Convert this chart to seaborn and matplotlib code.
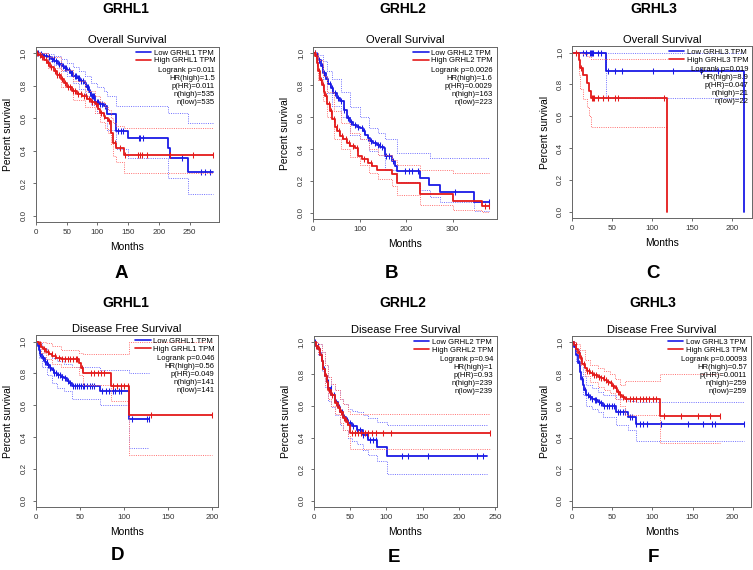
import matplotlib.pyplot as plt
from matplotlib.lines import Line2D
import numpy as np
import seaborn as sns

# ---------------- A: GRHL1 overall survival ----------------
a_low_t = [0, 5, 12, 20, 24, 30, 36, 42, 45, 50, 55, 61, 66, 72, 78, 82, 86, 90, 96, 103, 110, 115, 131, 149, 215, 219, 248, 288]
a_low_s = [1, 0.995, 0.985, 0.975, 0.965, 0.95, 0.935, 0.92, 0.91, 0.895, 0.88, 0.86, 0.845, 0.83, 0.815, 0.79, 0.76, 0.74, 0.70, 0.685, 0.675, 0.624, 0.52, 0.476, 0.419, 0.357, 0.269, 0.269]
a_low_cens = [3, 8, 13, 17, 21, 26, 29, 33, 38, 40, 44, 47, 49, 53, 57, 59, 63, 65, 68, 70, 74, 76, 79, 83, 85, 88, 91, 93, 95, 99, 101, 105, 108, 112, 134, 138, 142, 167, 170, 174, 237, 268, 276, 283]
a_low_ci_t = [0, 20, 30, 40, 50, 60, 70, 80, 90, 100, 110, 115, 131, 149, 215, 248, 288]
a_low_ci_hi = [1, 0.995, 0.985, 0.965, 0.94, 0.915, 0.89, 0.86, 0.82, 0.79, 0.77, 0.74, 0.675, 0.675, 0.634, 0.573, 0.573]
a_low_ci_lo = [1, 0.955, 0.93, 0.89, 0.86, 0.82, 0.78, 0.74, 0.68, 0.63, 0.60, 0.53, 0.41, 0.357, 0.234, 0.131, 0.131]
a_high_t = [0, 3, 8, 13, 18, 23, 29, 34, 40, 45, 51, 58, 67, 75, 83, 90, 96, 101, 104.5, 110, 113, 118, 122, 126, 131, 143, 288]
a_high_s = [1, 0.99, 0.975, 0.96, 0.94, 0.915, 0.89, 0.865, 0.84, 0.815, 0.79, 0.77, 0.75, 0.735, 0.717, 0.70, 0.686, 0.66, 0.634, 0.615, 0.604, 0.583, 0.511, 0.45, 0.419, 0.374, 0.374]
a_high_cens = [2, 6, 10, 16, 20, 25, 31, 35, 38, 43, 47, 52, 56, 60, 64, 69, 73, 78, 81, 86, 92, 98, 106, 111, 119, 128, 137, 145, 166, 169, 173, 181, 218, 255, 288]
a_high_ci_t = [0, 20, 40, 60, 80, 96, 104, 112, 118, 122, 126, 131, 143, 288]
a_high_ci_hi = [1, 0.975, 0.90, 0.83, 0.77, 0.74, 0.70, 0.67, 0.65, 0.60, 0.57, 0.55, 0.54, 0.54]
a_high_ci_lo = [1, 0.91, 0.79, 0.71, 0.67, 0.63, 0.58, 0.54, 0.51, 0.44, 0.37, 0.33, 0.265, 0.265]
a_stats = ['Logrank p=0.011', 'HR(high)=1.5', 'p(HR)=0.011', 'n(high)=535', 'n(low)=535']

# ---------------- B: GRHL2 overall survival ----------------
b_low_t = [0, 5, 11, 16, 21.5, 27, 32, 38, 43, 50, 57, 65, 72, 79, 86, 93, 100, 106, 111, 117, 122, 129, 136, 144, 151, 154, 169, 176, 180, 230, 248, 273, 345, 377]
b_low_s = [1, 0.99, 0.96, 0.92, 0.875, 0.84, 0.81, 0.78, 0.75, 0.72, 0.698, 0.646, 0.594, 0.57, 0.552, 0.54, 0.531, 0.51, 0.49, 0.47, 0.448, 0.44, 0.427, 0.415, 0.406, 0.354, 0.323, 0.292, 0.26, 0.219, 0.177, 0.131, 0.067, 0.067]
b_low_cens = [4, 8, 13, 18, 24, 29, 35, 40, 46, 53, 60, 67, 75, 82, 90, 97, 104, 110, 118, 125, 132, 139, 143, 147, 157, 163, 171, 197, 205, 212, 226, 305, 377]
b_low_ci_t = [0, 10, 20, 30, 40, 60, 80, 100, 120, 140, 155, 180, 230, 250, 273, 345, 377]
b_low_ci_hi = [1, 0.99, 0.95, 0.89, 0.84, 0.76, 0.66, 0.60, 0.53, 0.50, 0.46, 0.375, 0.375, 0.344, 0.344, 0.344, 0.344]
b_low_ci_lo = [1, 0.94, 0.84, 0.75, 0.67, 0.60, 0.49, 0.46, 0.39, 0.36, 0.27, 0.19, 0.14, 0.10, 0.07, 0.012, 0.012]
b_high_t = [0, 4, 7, 10, 14, 18, 22, 25, 30, 36, 41, 47, 52, 57, 64, 72, 80, 90, 97, 105, 118, 127, 136, 169, 180, 230, 301, 362, 377]
b_high_s = [1, 0.98, 0.94, 0.89, 0.833, 0.80, 0.76, 0.73, 0.68, 0.635, 0.59, 0.54, 0.51, 0.48, 0.46, 0.4375, 0.42, 0.406, 0.354, 0.34, 0.3125, 0.29, 0.27, 0.24, 0.1875, 0.115, 0.073, 0.042, 0.042]
b_high_cens = [3, 6, 9, 12, 16, 20, 24, 28, 33, 38, 44, 50, 56, 62, 70, 77, 85, 95, 110, 125, 370, 377]
b_high_ci_t = [0, 10, 20, 30, 45, 60, 80, 100, 120, 140, 170, 180, 230, 300, 362, 377]
b_high_ci_hi = [1, 0.96, 0.86, 0.76, 0.64, 0.56, 0.50, 0.46, 0.40, 0.36, 0.33, 0.30, 0.27, 0.25, 0.25, 0.25]
b_high_ci_lo = [1, 0.83, 0.70, 0.60, 0.46, 0.40, 0.35, 0.30, 0.25, 0.21, 0.17, 0.11, 0.05, 0.02, 0.005, 0.005]
b_stats = ['Logrank p=0.0026', 'HR(high)=1.6', 'p(HR)=0.0029', 'n(high)=163', 'n(low)=223']

# ---------------- C: GRHL3 overall survival ----------------
c_low_t = [0, 41.7, 215]
c_low_s = [1, 0.887, 0.0]
c_low_cens = [13, 17, 22, 24, 25, 26, 32, 36, 45, 53, 62, 101, 126, 161, 182]
c_low_ci_t = [0, 41.7, 215]
c_low_ci_hi = [1, 1, 1]
c_low_ci_lo = [1, 0.713, 0.713]
c_high_t = [0, 8, 10, 13, 19, 21, 24, 119]
c_high_s = [1, 0.952, 0.905, 0.857, 0.81, 0.762, 0.714, 0.0]
c_high_cens = [5, 11, 25, 26, 27, 32, 38, 45, 53, 57, 115]
c_high_ci_t = [0, 8, 10, 13, 19, 21, 24, 118]
c_high_ci_hi = [1, 1, 1, 0.99, 0.98, 0.97, 0.96, 0.96]
c_high_ci_lo = [1, 0.86, 0.77, 0.71, 0.66, 0.60, 0.535, 0.535]
c_stats = ['Logrank p=0.019', 'HR(high)=8.9', 'p(HR)=0.047', 'n(high)=21', 'n(low)=22']

# ---------------- D: GRHL1 disease free survival ----------------
d_low_t = [0, 2, 3.4, 5, 7.2, 10, 12.9, 16, 18.5, 21, 24, 28, 31.8, 35, 37.4, 41, 73, 106, 128]
d_low_s = [1, 0.975, 0.947, 0.92, 0.895, 0.872, 0.853, 0.835, 0.82, 0.805, 0.79, 0.78, 0.77, 0.755, 0.738, 0.723, 0.69, 0.512, 0.512]
d_low_cens = [3, 5, 8, 10, 12, 14, 16, 19, 21, 23, 25, 27, 29, 30, 33, 36, 39, 42, 44, 46, 49, 51, 53, 55, 58, 61, 64, 66, 75, 79, 83, 87, 90, 94, 96, 109, 126, 128]
d_low_ci_t = [0, 3.4, 7.2, 12.9, 18.5, 24, 31.8, 41, 73, 106, 128]
d_low_ci_hi = [1, 0.99, 0.96, 0.93, 0.90, 0.88, 0.86, 0.84, 0.82, 0.80, 0.80]
d_low_ci_lo = [1, 0.90, 0.84, 0.79, 0.74, 0.71, 0.69, 0.64, 0.60, 0.33, 0.33]
d_high_t = [0, 3, 5.3, 8, 11, 15, 18.5, 23, 28, 48.8, 50.7, 53.7, 84.7, 106, 200]
d_high_s = [1, 0.985, 0.969, 0.953, 0.937, 0.925, 0.912, 0.90, 0.891, 0.864, 0.832, 0.805, 0.723, 0.539, 0.539]
d_high_cens = [4, 9, 14, 18, 22, 26, 30, 33, 36, 39, 42, 45, 47, 52, 62, 66, 70, 74, 77, 88, 92, 96, 100, 104, 131, 200]
d_high_ci_t = [0, 5.3, 11, 18.5, 28, 48.8, 53.7, 84.7, 106, 200]
d_high_ci_hi = [1, 1, 0.99, 0.97, 0.95, 0.93, 0.92, 0.92, 1.0, 1.0]
d_high_ci_lo = [1, 0.93, 0.89, 0.86, 0.84, 0.79, 0.73, 0.63, 0.287, 0.287]
d_stats = ['Logrank p=0.046', 'HR(high)=0.56', 'p(HR)=0.049', 'n(high)=141', 'n(low)=141']

# ---------------- E: GRHL2 disease free survival ----------------
e_low_t = [0, 3, 6, 8, 10.6, 13, 15, 17.5, 20, 24, 29, 33, 36, 40.5, 44, 47, 52, 59, 68, 75, 86.5, 101, 238.5]
e_low_s = [1, 0.98, 0.96, 0.92, 0.88, 0.83, 0.79, 0.75, 0.71, 0.668, 0.626, 0.59, 0.563, 0.53, 0.51, 0.49, 0.47, 0.45, 0.416, 0.384, 0.342, 0.284, 0.284]
e_low_cens = [2, 5, 9, 14, 19, 23, 27, 31, 35, 38, 42, 46, 50, 54, 59, 64, 68, 73, 77, 82, 86, 121, 130, 158, 225, 234]
e_low_ci_t = [0, 6, 10.6, 15, 20, 24, 29, 36, 40.5, 47, 52, 59, 68, 75, 86.5, 101, 238.5]
e_low_ci_hi = [1, 0.99, 0.94, 0.86, 0.78, 0.74, 0.70, 0.64, 0.61, 0.58, 0.57, 0.56, 0.54, 0.52, 0.50, 0.48, 0.48]
e_low_ci_lo = [1, 0.92, 0.82, 0.72, 0.63, 0.59, 0.54, 0.48, 0.45, 0.40, 0.38, 0.36, 0.32, 0.29, 0.25, 0.168, 0.168]
e_high_t = [0, 3, 6, 8, 10.6, 13, 15, 17.5, 20, 24, 29, 33, 36, 40.5, 44, 47, 50, 243]
e_high_s = [1, 0.98, 0.96, 0.92, 0.88, 0.83, 0.79, 0.75, 0.70, 0.665, 0.62, 0.585, 0.56, 0.525, 0.50, 0.48, 0.431, 0.431]
e_high_cens = [3, 7, 11, 16, 21, 25, 30, 34, 37, 41, 45, 52, 56, 61, 65, 70, 75, 80, 85, 96, 107, 243]
e_high_ci_t = [0, 6, 10.6, 15, 20, 24, 29, 36, 40.5, 47, 50, 243]
e_high_ci_hi = [1, 0.99, 0.94, 0.86, 0.78, 0.74, 0.70, 0.64, 0.61, 0.57, 0.55, 0.55]
e_high_ci_lo = [1, 0.93, 0.83, 0.73, 0.64, 0.60, 0.55, 0.49, 0.45, 0.41, 0.33, 0.33]
e_stats = ['Logrank p=0.94', 'HR(high)=1', 'p(HR)=0.93', 'n(high)=239', 'n(low)=239']

# ---------------- F: GRHL3 disease free survival ----------------
f_low_t = [0, 2, 5, 7, 9, 11, 13, 15, 17.5, 21, 24, 28, 32, 35, 38, 55, 70, 79, 214.6]
f_low_s = [1, 0.97, 0.92, 0.87, 0.815, 0.77, 0.73, 0.70, 0.668, 0.655, 0.643, 0.635, 0.626, 0.615, 0.60, 0.559, 0.53, 0.485, 0.485]
f_low_cens = [3, 8, 12, 16, 19, 22, 25, 28, 30, 33, 36, 40, 43, 46, 49, 52, 57, 60, 63, 66, 72, 75, 80, 84, 88, 93, 111, 144, 163, 174, 178, 214.6]
f_low_ci_t = [0, 5, 9, 13, 17.5, 24, 32, 38, 55, 70, 79, 214.6]
f_low_ci_hi = [1, 0.96, 0.87, 0.79, 0.73, 0.71, 0.69, 0.67, 0.64, 0.63, 0.626, 0.626]
f_low_ci_lo = [1, 0.88, 0.76, 0.67, 0.60, 0.58, 0.56, 0.53, 0.48, 0.45, 0.378, 0.378]
f_high_t = [0, 2, 5, 7, 9, 12, 15.4, 18, 21.7, 26, 32, 36, 40, 43, 46.7, 50, 53, 56, 59, 62, 65.4, 110, 184]
f_high_s = [1, 0.985, 0.96, 0.93, 0.90, 0.865, 0.836, 0.82, 0.805, 0.795, 0.784, 0.773, 0.763, 0.752, 0.742, 0.726, 0.71, 0.69, 0.668, 0.655, 0.643, 0.536, 0.536]
f_high_cens = [4, 8, 11, 14, 18, 21, 24, 27, 30, 33, 36, 39, 42, 45, 48, 51, 54, 57, 60, 63, 67, 72, 76, 80, 84, 88, 92, 96, 101, 105, 115, 136, 157, 172, 184]
f_high_ci_t = [0, 5, 9, 15.4, 21.7, 32, 40, 46.7, 53, 59, 65.4, 110, 184]
f_high_ci_hi = [1, 0.99, 0.95, 0.89, 0.86, 0.84, 0.82, 0.80, 0.77, 0.73, 0.756, 0.798, 0.798]
f_high_ci_lo = [1, 0.93, 0.86, 0.79, 0.75, 0.72, 0.70, 0.68, 0.64, 0.60, 0.542, 0.363, 0.363]
f_stats = ['Logrank p=0.00093', 'HR(high)=0.57', 'p(HR)=0.0011', 'n(high)=259', 'n(low)=259']

BLUE, RED = '#1a1ae6', '#e41a1a'
BLUE_CI, RED_CI = '#7070ff', '#ff7070'

sns.set_theme(style="ticks")
plt.rcParams['font.family'] = ['Liberation Sans', 'DejaVu Sans']
plt.rcParams['text.color'] = 'black'

fig = plt.figure(figsize=(7.53, 5.70), dpi=100)
W, H = 753, 570


def add_axes(left, top, right, bottom):
    return fig.add_axes([left / W, 1 - bottom / H, (right - left) / W, (bottom - top) / H])


def draw_group(ax, t, s, cens, ci_t, ci_hi, ci_lo, color, light):
    for band in (ci_hi, ci_lo):
        sns.lineplot(x=ci_t, y=band, drawstyle='steps-post', estimator=None, sort=False,
                     color=light, lw=0.7, ls=(0, (1, 1.3)), ax=ax)
    sns.lineplot(x=t, y=s, drawstyle='steps-post', estimator=None, sort=False,
                 color=color, lw=1.3, ax=ax)
    s = np.asarray(s)
    idx = np.searchsorted(t, cens, side='right') - 1
    sns.lineplot(x=cens, y=s[idx], estimator=None, sort=False, ls='none', marker='|',
                 ms=4.2, markeredgewidth=0.75, markeredgecolor=color, color=color, ax=ax)


panels = [
    dict(box=(36, 46.8, 219, 222.2), gene='GRHL1', title='Overall Survival', letter='A',
         xmax=298, xticks=[0, 50, 100, 150, 200, 250],
         low=(a_low_t, a_low_s, a_low_cens, a_low_ci_t, a_low_ci_hi, a_low_ci_lo),
         high=(a_high_t, a_high_s, a_high_cens, a_high_ci_t, a_high_ci_hi, a_high_ci_lo),
         stats=a_stats, gx=126, gy=9, lx=121, ly=274),
    dict(box=(313.3, 46.9, 496.5, 219.1), gene='GRHL2', title='Overall Survival', letter='B',
         xmax=394, xticks=[0, 100, 200, 300],
         low=(b_low_t, b_low_s, b_low_cens, b_low_ci_t, b_low_ci_hi, b_low_ci_lo),
         high=(b_high_t, b_high_s, b_high_cens, b_high_ci_t, b_high_ci_hi, b_high_ci_lo),
         stats=b_stats, gx=403, gy=9, lx=392, ly=274),
    dict(box=(572.3, 46.3, 752, 218.1), gene='GRHL3', title='Overall Survival', letter='C',
         xmax=225, xticks=[0, 50, 100, 150, 200],
         low=(c_low_t, c_low_s, c_low_cens, c_low_ci_t, c_low_ci_hi, c_low_ci_lo),
         high=(c_high_t, c_high_s, c_high_cens, c_high_ci_t, c_high_ci_hi, c_high_ci_lo),
         stats=c_stats, gx=654, gy=9, lx=653, ly=274),
    dict(box=(36, 335.3, 218.3, 507.1), gene='GRHL1', title='Disease Free Survival', letter='D',
         xmax=207, xticks=[0, 50, 100, 150, 200],
         low=(d_low_t, d_low_s, d_low_cens, d_low_ci_t, d_low_ci_hi, d_low_ci_lo),
         high=(d_high_t, d_high_s, d_high_cens, d_high_ci_t, d_high_ci_hi, d_high_ci_lo),
         stats=d_stats, gx=126, gy=303, lx=117, ly=556),
    dict(box=(314, 336, 497, 507.3), gene='GRHL2', title='Disease Free Survival', letter='E',
         xmax=252.8, xticks=[0, 50, 100, 150, 200, 250],
         low=(e_low_t, e_low_s, e_low_cens, e_low_ci_t, e_low_ci_hi, e_low_ci_lo),
         high=(e_high_t, e_high_s, e_high_cens, e_high_ci_t, e_high_ci_hi, e_high_ci_lo),
         stats=e_stats, gx=403, gy=303, lx=394, ly=557),
    dict(box=(572.3, 336, 751, 507.3), gene='GRHL3', title='Disease Free Survival', letter='F',
         xmax=223, xticks=[0, 50, 100, 150, 200],
         low=(f_low_t, f_low_s, f_low_cens, f_low_ci_t, f_low_ci_hi, f_low_ci_lo),
         high=(f_high_t, f_high_s, f_high_cens, f_high_ci_t, f_high_ci_hi, f_high_ci_lo),
         stats=f_stats, gx=653, gy=303, lx=653, ly=557),
]

for p in panels:
    ax = add_axes(*p['box'])
    draw_group(ax, *p['low'], BLUE, BLUE_CI)
    draw_group(ax, *p['high'], RED, RED_CI)

    ax.set_xlim(0, p['xmax'])
    ax.set_ylim(-0.04, 1.04)
    ax.set_xticks(p['xticks'])
    ax.set_yticks([0, 0.2, 0.4, 0.6, 0.8, 1.0])
    ax.set_yticklabels(['0.0', '0.2', '0.4', '0.6', '0.8', '1.0'], rotation=90, va='center')
    ax.tick_params(axis='both', labelsize=5.8, length=2.5, width=0.6, color='#555555',
                   labelcolor='#333333', pad=2.5)
    ax.tick_params(axis='y', pad=3.5)
    for sp in ax.spines.values():
        sp.set_visible(True)
        sp.set_color('#666666')
        sp.set_linewidth(0.7)

    ax.set_title(p['title'], fontsize=8, pad=2.5, color='black')
    ax.set_xlabel('Months', fontsize=7.4, color='black')
    ax.set_ylabel('Percent survival', fontsize=7.4, color='black')
    ax.xaxis.set_label_coords(0.5, -0.115)
    ax.yaxis.set_label_coords(-0.125, 0.5)

    gene = p['gene']
    handles = [Line2D([], [], color=BLUE, lw=1.2), Line2D([], [], color=RED, lw=1.2)]
    leg = ax.legend(handles, [f'Low {gene} TPM', f'High {gene} TPM'], loc='upper right',
                    bbox_to_anchor=(0.985, 0.99), frameon=False, fontsize=5.5, labelspacing=0.05,
                    handlelength=2.0, handletextpad=0.35, borderpad=0.1, borderaxespad=0)
    for txt in leg.get_texts():
        txt.set_color('black')
    ax.text(0.978, 0.885, '\n'.join(p['stats']), transform=ax.transAxes, ha='right',
            va='top', fontsize=5.5, linespacing=1.22, color='black')

    fig.text(p['gx'] / W, 1 - p['gy'] / H, gene, ha='center', va='center',
             fontsize=10, fontweight='bold', color='black')
    fig.text(p['lx'] / W, 1 - p['ly'] / H, p['letter'], ha='center', va='center',
             fontsize=13.5, fontweight='bold', color='black')

fig.savefig('out.png', dpi=100)
